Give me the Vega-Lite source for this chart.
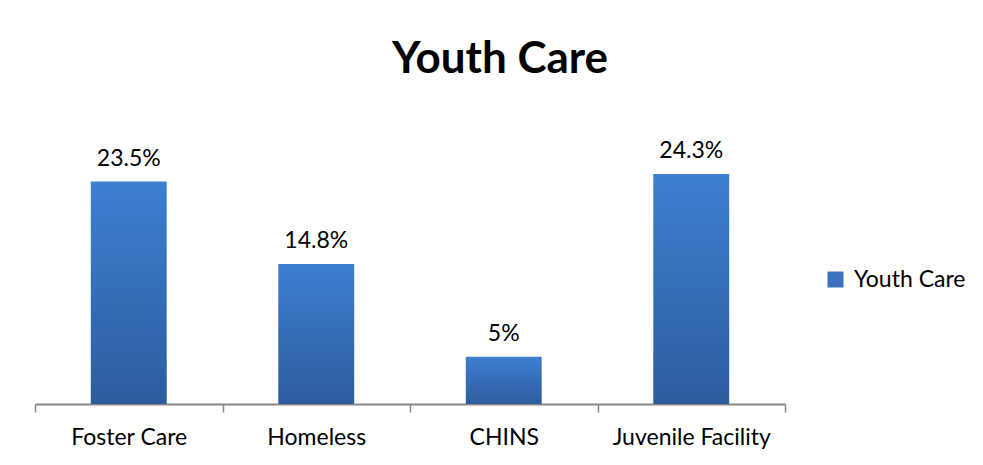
{
  "$schema": "https://vega.github.io/schema/vega-lite/v6.json",
  "autosize": "none",
  "width": 750,
  "height": 284,
  "padding": {"left": 35, "top": 120, "right": 198, "bottom": 61},
  "background": "white",
  "title": {
    "text": "Youth Care",
    "anchor": "middle",
    "dx": 90,
    "offset": 38,
    "font": "Lato",
    "fontSize": 44,
    "fontWeight": "bold",
    "color": "#000000"
  },
  "data": {
    "values": [
      {"category": "Foster Care", "value": 0.235, "series": "Youth Care"},
      {"category": "Homeless", "value": 0.148, "series": "Youth Care"},
      {"category": "CHINS", "value": 0.05, "series": "Youth Care"},
      {"category": "Juvenile Facility", "value": 0.243, "series": "Youth Care"}
    ]
  },
  "encoding": {
    "x": {
      "field": "category",
      "type": "nominal",
      "sort": null,
      "scale": {"paddingInner": 0, "paddingOuter": 0},
      "axis": {
        "title": null,
        "labelAngle": 0,
        "tickBand": "extent",
        "domainColor": "#888888",
        "domainWidth": 2,
        "tickColor": "#888888",
        "tickWidth": 1.5,
        "tickSize": 8,
        "labelFont": "Lato",
        "labelFontSize": 23,
        "labelColor": "#000000",
        "labelPadding": 14
      }
    },
    "y": {
      "field": "value",
      "type": "quantitative",
      "scale": {"domain": [0, 0.3]},
      "axis": null
    }
  },
  "layer": [
    {
      "mark": {
        "type": "bar",
        "width": {"band": 0.405},
        "color": {
          "gradient": "linear",
          "x1": 0, "y1": 0, "x2": 0, "y2": 1,
          "stops": [
            {"offset": 0, "color": "#3d7fd1"},
            {"offset": 1, "color": "#2d5c9e"}
          ]
        }
      }
    },
    {
      "mark": {"type": "bar", "width": {"band": 0.405}, "opacity": 0},
      "encoding": {
        "color": {
          "field": "series",
          "type": "nominal",
          "scale": {"range": ["#3a72bf"]},
          "legend": {
            "title": null,
            "symbolType": "square",
            "symbolSize": 256,
            "symbolOpacity": 1,
            "symbolStrokeWidth": 0,
            "labelFont": "Lato",
            "labelFontSize": 23,
            "labelColor": "#000000",
            "labelOffset": 7,
            "orient": "none",
            "legendX": 789,
            "legendY": 148
          }
        }
      }
    },
    {
      "mark": {
        "type": "text",
        "baseline": "bottom",
        "dy": -11,
        "font": "Lato",
        "fontSize": 23,
        "color": "#000000"
      },
      "encoding": {
        "text": {"field": "value", "type": "quantitative", "format": ".1~%"}
      }
    }
  ],
  "config": {"view": {"stroke": null}}
}
